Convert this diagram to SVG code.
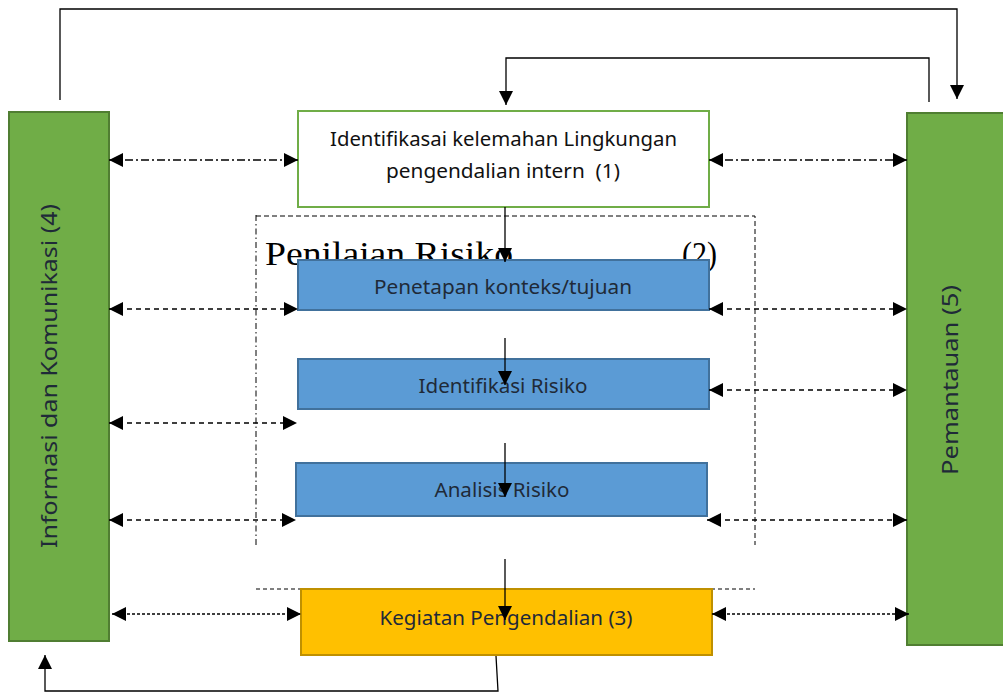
<svg xmlns="http://www.w3.org/2000/svg" width="1003" height="692" viewBox="0 0 1003 692">
<defs>
<marker id="ah" viewBox="0 0 10 10" refX="10" refY="5" markerWidth="15" markerHeight="14" markerUnits="userSpaceOnUse" orient="auto-start-reverse"><path d="M0,0 L10,5 L0,10 z" fill="#000"/></marker>
<marker id="av" viewBox="0 0 10 10" refX="10" refY="5" markerWidth="17" markerHeight="14" markerUnits="userSpaceOnUse" orient="auto-start-reverse"><path d="M0,0 L10,5 L0,10 z" fill="#000"/></marker>
</defs>
<style>
.bar{fill:#70AD47;stroke:#507E32;stroke-width:2}
.blue{fill:#5B9BD5;stroke:#41719C;stroke-width:2}
.t{font-family:"Noto Sans","Open Sans",sans-serif;fill:#1F2A38;text-anchor:middle;white-space:pre}
.c{fill:none;stroke:#000;stroke-width:1.3}
.dd{stroke-dasharray:8,3,2,3}
.ds{stroke-dasharray:5,4}
.dt{stroke-dasharray:3,2}
.h{marker-start:url(#ah);marker-end:url(#ah)}
.v{marker-end:url(#av)}
</style>
<g id="penilaian-risiko">
<path d="M256,545 V215" fill="none" stroke="#000" stroke-width="1" stroke-dasharray="6,3,1.5,3"/>
<path d="M256,216 H755 V545" fill="none" stroke="#000" stroke-width="1" stroke-dasharray="5,3"/>
<path d="M256,589 H755" fill="none" stroke="#000" stroke-width="1" stroke-dasharray="4,3"/>
<text x="265" y="265" font-family="'Liberation Serif','DejaVu Serif',serif" font-size="33" textLength="248" lengthAdjust="spacingAndGlyphs">Penilaian Risiko</text>
<text x="682" y="265" font-family="'Liberation Serif','DejaVu Serif',serif" font-size="33" textLength="35" lengthAdjust="spacingAndGlyphs">(2)</text>
</g>
<g id="informasi-komunikasi">
<rect class="bar" x="9" y="112" width="100" height="529"/>
<text class="t" transform="translate(57,376) rotate(-90)" font-size="22" textLength="344" lengthAdjust="spacingAndGlyphs">Informasi dan Komunikasi (4)</text>
</g>
<g id="pemantauan">
<rect class="bar" x="907" y="113" width="100" height="532"/>
<text class="t" transform="translate(958,380) rotate(-90)" font-size="22" textLength="190" lengthAdjust="spacingAndGlyphs">Pemantauan (5)</text>
</g>
<g id="identifikasi-kelemahan">
<rect x="298" y="111" width="411" height="96" fill="#fff" stroke="#70AD47" stroke-width="2"/>
<text class="t" x="503.5" y="146" font-size="19" fill="#000" style="fill:#111" textLength="347" lengthAdjust="spacingAndGlyphs">Identifikasai kelemahan Lingkungan</text>
<text class="t" x="503" y="178" font-size="19" style="fill:#111" textLength="234" lengthAdjust="spacingAndGlyphs">pengendalian intern  (1)</text>
</g>
<g id="penetapan-konteks">
<rect class="blue" x="298" y="260" width="411" height="50"/>
<text class="t" x="503" y="294" font-size="20" textLength="258" lengthAdjust="spacingAndGlyphs">Penetapan konteks/tujuan</text>
</g>
<g id="identifikasi-risiko">
<rect class="blue" x="298" y="359" width="411" height="50"/>
<text class="t" x="503" y="393" font-size="20" textLength="169" lengthAdjust="spacingAndGlyphs">Identifikasi Risiko</text>
</g>
<g id="analisis-risiko">
<rect class="blue" x="296" y="463" width="411" height="53"/>
<text class="t" x="502" y="497" font-size="20" textLength="135" lengthAdjust="spacingAndGlyphs">Analisis Risiko</text>
</g>
<g id="kegiatan-pengendalian">
<rect x="301" y="589" width="411" height="66" fill="#FFC000" stroke="#BF9000" stroke-width="2"/>
<text class="t" x="506" y="625" font-size="20" textLength="253" lengthAdjust="spacingAndGlyphs">Kegiatan Pengendalian (3)</text>
</g>
<g id="connectors">
<path class="c v" d="M60,100 V9 H957 V99"/>
<path class="c v" d="M929,102 V58 H506 V105"/>
<path class="c v" d="M496,656 L498,691 H45 V655" stroke="#444"/>
<path class="c v" d="M505,207 V262"/>
<path class="c v" d="M505,338 V385"/>
<path class="c v" d="M505,443 V497"/>
<path class="c v" d="M505,559 V620"/>
<path class="c h dd" d="M109,160 H298"/>
<path class="c h dd" d="M709,160 H907"/>
<path class="c h ds" d="M109,309 H298"/>
<path class="c h ds" d="M709,309 H907"/>
<path class="c h ds" d="M109,423 H297"/>
<path class="c h ds" d="M709,390 H907"/>
<path class="c h ds" d="M109,520 H296"/>
<path class="c h ds" d="M707,520 H907"/>
<path class="c h dt" d="M112,614 H301"/>
<path class="c h dt" d="M712,614 H909"/>
</g>
</svg>
